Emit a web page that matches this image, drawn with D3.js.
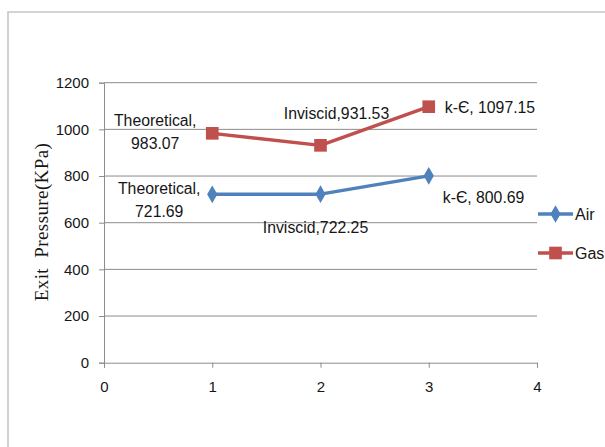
<!DOCTYPE html>
<html>
<head>
<meta charset="utf-8">
<script src="https://cdn.jsdelivr.net/npm/d3@7"></script>
<style>
  html, body { margin: 0; padding: 0; background: #fff; }
  svg { display: block; }
  text { font-family: "Liberation Sans", Arial, sans-serif; fill: #161616; }
</style>
</head>
<body>
<svg id="chart" width="605" height="447"></svg>
<script>
// Exit pressure by solution method
const methods = ["Theoretical", "Inviscid", "k-Є"];
const xPositions = [1, 2, 3];
const airValues = [721.69, 722.25, 800.69];
const gasValues = [983.07, 931.53, 1097.15];
const seriesNames = ["Air", "Gas"];
const yTickValues = [0, 200, 400, 600, 800, 1000, 1200];
const xTickValues = [0, 1, 2, 3, 4];

const colors = { Air: "#4f81bd", Gas: "#c0504d" };

const svg = d3.select("#chart");

// outer chart frame (top and left edges visible)
svg.append("path")
  .attr("d", "M8,447 V12 H605")
  .attr("fill", "none")
  .attr("stroke", "#c6c6c6")
  .attr("stroke-width", 1.6);

const x = d3.scaleLinear().domain([0, 4]).range([104, 537]);
const y = d3.scaleLinear().domain([0, 1200]).range([362.7, 82.7]);

// horizontal gridlines
svg.append("g")
  .selectAll("line")
  .data(yTickValues.filter(v => v > 0))
  .join("line")
  .attr("x1", x(0)).attr("x2", x(4))
  .attr("y1", d => y(d)).attr("y2", d => y(d))
  .attr("stroke", "#8c8c8c")
  .attr("stroke-width", 1);

// y axis
const yAxis = svg.append("g")
  .attr("transform", `translate(${x(0)},0)`)
  .call(d3.axisLeft(y).tickValues(yTickValues).tickSize(5).tickPadding(10).tickFormat(d3.format("d")));
yAxis.select(".domain").attr("stroke", "#8c8c8c");
yAxis.selectAll(".tick line").attr("stroke", "#8c8c8c");
yAxis.selectAll(".tick text")
  .style("font-size", "15px")
  .style("font-family", "'Liberation Sans', Arial, sans-serif")
  .attr("fill", "#161616");

// x axis
const xAxis = svg.append("g")
  .attr("transform", `translate(0,${y(0)})`)
  .call(d3.axisBottom(x).tickValues(xTickValues).tickSize(5).tickPadding(14).tickFormat(d3.format("d")));
xAxis.select(".domain").attr("stroke", "#8c8c8c");
xAxis.selectAll(".tick line").attr("stroke", "#8c8c8c");
xAxis.selectAll(".tick text")
  .style("font-size", "15px")
  .style("font-family", "'Liberation Sans', Arial, sans-serif")
  .attr("fill", "#161616");

// y axis title
svg.append("text")
  .attr("transform", "translate(48,222) rotate(-90)")
  .attr("text-anchor", "middle")
  .style("font-family", "'Liberation Serif', 'Times New Roman', serif")
  .style("font-size", "19px")
  .style("letter-spacing", "0.4px")
  .style("white-space", "pre")
  .text("Exit  Pressure(KPa)");

const series = [
  { name: "Air", values: airValues },
  { name: "Gas", values: gasValues }
];

const line = d3.line()
  .x((d, i) => x(xPositions[i]))
  .y(d => y(d));

const diamond = d3.symbol().type(d3.symbolDiamond).size(90);
const square = d3.symbol().type(d3.symbolSquare).size(160);

series.forEach(s => {
  const g = svg.append("g");
  g.append("path")
    .datum(s.values)
    .attr("d", line)
    .attr("fill", "none")
    .attr("stroke", colors[s.name])
    .attr("stroke-width", 3.4)
    .attr("stroke-linejoin", "round");
  g.selectAll("path.marker")
    .data(s.values)
    .join("path")
    .attr("class", "marker")
    .attr("transform", (d, i) => `translate(${x(xPositions[i])},${y(d)})`)
    .attr("d", s.name === "Air" ? diamond : square)
    .attr("fill", colors[s.name]);
});

// data label placement: [dx, dy, anchor, split onto two lines]
const labelLayout = {
  Air: [[-53, 0, "middle", true], [-5, 39, "middle", false], [14, 27, "start", false]],
  Gas: [[-57, -7, "middle", true], [16, -26, "middle", false], [16, 6, "start", false]]
};

series.forEach(s => {
  s.values.forEach((v, i) => {
    const [dx, dy, anchor, twoLines] = labelLayout[s.name][i];
    const px = x(xPositions[i]) + dx;
    const py = y(v) + dy;
    const t = svg.append("text")
      .attr("x", px).attr("y", py)
      .attr("text-anchor", anchor)
      .style("font-size", "15.8px");
    if (twoLines) {
      t.append("tspan").attr("x", px).text(methods[i] + ",");
      t.append("tspan").attr("x", px).attr("dy", 23).text(d3.format(".2f")(v));
    } else {
      const sep = methods[i] === "k-Є" ? ", " : ",";
      t.text(methods[i] + sep + d3.format(".2f")(v));
    }
  });
});

// legend
const legend = svg.append("g");
seriesNames.forEach((name, i) => {
  const ly = 214 + i * 39;
  legend.append("line")
    .attr("x1", 538).attr("x2", 573)
    .attr("y1", ly).attr("y2", ly)
    .attr("stroke", colors[name])
    .attr("stroke-width", 3.4);
  legend.append("path")
    .attr("transform", `translate(555.5,${ly})`)
    .attr("d", name === "Air" ? diamond : square)
    .attr("fill", colors[name]);
  legend.append("text")
    .attr("x", 575).attr("y", ly + 6)
    .style("font-size", "16px")
    .text(name);
});
</script>
</body>
</html>
